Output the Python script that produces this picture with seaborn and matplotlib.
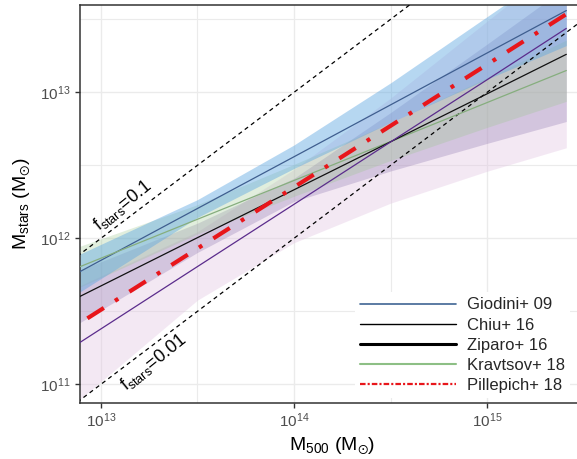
import numpy as np
import pandas as pd
import matplotlib
matplotlib.use("Agg")
import matplotlib.pyplot as plt
import seaborn as sns
from matplotlib.lines import Line2D

# ---------------- data ----------------
m500_nodes = [7.76e12, 3.16e13, 1.0e14, 3.16e14, 1.0e15, 2.57e15]

giodini_mid = [5.90e11, 1.60e12, 3.62e12, 8.20e12, 1.86e13, 3.63e13]
giodini_hi = [7.78e11, 1.84e12, 4.36e12, 1.16e13, 3.30e13, 7.76e13]
giodini_lo = [4.28e11, 1.39e12, 3.01e12, 6.22e12, 1.23e13, 2.09e13]

kravtsov_mid = [6.38e11, 1.35e12, 2.49e12, 4.60e12, 8.51e12, 1.41e13]
kravtsov_hi = [8.81e11, 1.70e12, 3.21e12, 6.21e12, 1.26e13, 2.28e13]
kravtsov_lo = [4.62e11, 1.07e12, 1.94e12, 3.41e12, 5.75e12, 8.67e12]

black_mid = [3.99e11, 1.01e12, 2.15e12, 4.58e12, 9.77e12, 1.82e13]
black_hi = [6.04e11, 1.27e12, 2.58e12, 7.26e12, 2.14e13, 5.25e13]
black_lo = [2.64e11, 8.00e11, 1.79e12, 2.89e12, 4.47e12, 6.31e12]

purple_mid = [1.93e11, 6.40e11, 1.71e12, 4.57e12, 1.22e13, 2.74e13]
purple_hi = [4.73e11, 1.11e12, 2.97e12, 9.12e12, 3.07e13, 8.26e13]
purple_lo = [7.85e10, 3.77e11, 9.33e11, 1.74e12, 2.88e12, 4.17e12]

pillepich_m500 = [8.51e12, 1.0e14, 2.57e15]
pillepich_mstar = [2.83e11, 2.24e12, 3.43e13]

fstars_levels = [0.1, 0.01]
fstars_m500 = [7.0e12, 3.0e15]

legend_labels = ["Giodini+ 09", "Chiu+ 16", "Ziparo+ 16", "Kravtsov+ 18", "Pillepich+ 18"]
xtick_vals = [1e13, 1e14, 1e15]
xtick_labels = [r"$10^{13}$", r"$10^{14}$", r"$10^{15}$"]
ytick_vals = [1e11, 1e12, 1e13]
ytick_labels = [r"$10^{11}$", r"$10^{12}$", r"$10^{13}$"]

# ---------------- style ----------------
sns.set_theme(style="whitegrid")
plt.rcParams["font.family"] = ["Liberation Sans", "DejaVu Sans"]
plt.rcParams["mathtext.fontset"] = "custom"
plt.rcParams["mathtext.rm"] = "Liberation Sans"
plt.rcParams["mathtext.it"] = "Liberation Sans:italic"
plt.rcParams["mathtext.bf"] = "Liberation Sans:bold"
plt.rcParams["mathtext.sf"] = "Liberation Sans"
plt.rcParams["lines.scale_dashes"] = False

fig = plt.figure(figsize=(5.77, 4.59), dpi=100)
ax = fig.add_axes([79.7 / 577, 1 - 402.7 / 459, (583.7 - 79.7) / 577, (402.7 - 5) / 459])
ax.set_xscale("log")
ax.set_yscale("log")
ax.set_xlim(10 ** 12.89, 10 ** 15.41)
ax.set_ylim(10 ** 10.874, 10 ** 13.598)

# bands
bands = [
    (purple_lo, purple_hi, "#E2C4E2", 0.38),
    (black_lo, black_hi, "#8C74AE", 0.30),
    (kravtsov_lo, kravtsov_hi, "#9CC88F", 0.30),
    (giodini_lo, giodini_hi, "#5FA7E2", 0.45),
]
for lo, hi, c, a in bands:
    ax.fill_between(m500_nodes, lo, hi, color=c, alpha=a, lw=0, zorder=2)

# f_stars reference lines
for f in fstars_levels:
    d = pd.DataFrame({"x": fstars_m500, "y": [f * m for m in fstars_m500]})
    sns.lineplot(data=d, x="x", y="y", ax=ax, color="black", lw=0.9,
                 linestyle=(0, (3.0, 2.6)), zorder=3, legend=False)

lines = [
    (giodini_mid, "#3F5E8F", 0.9),
    (kravtsov_mid, "#86AE7E", 0.9),
    (black_mid, "#111111", 0.9),
    (purple_mid, "#5B2C8C", 0.9),
]
for mid, c, lw in lines:
    d = pd.DataFrame({"x": m500_nodes, "y": mid})
    sns.lineplot(data=d, x="x", y="y", ax=ax, color=c, lw=lw, zorder=4,
                 estimator=None, sort=False, legend=False)

d = pd.DataFrame({"x": pillepich_m500, "y": pillepich_mstar})
sns.lineplot(data=d, x="x", y="y", ax=ax, color="#E8161B", lw=3.0,
             linestyle=(0, (14, 9.5, 2.8, 9.5)), zorder=5,
             estimator=None, sort=False, legend=False)

# labels on f_stars lines
ax.text(10 ** 13.115, 10 ** 12.225, r"f$_{\rm stars}$=0.1", rotation=39,
        ha="center", va="center", fontsize=13, color="black", zorder=6)
ax.text(10 ** 13.275, 10 ** 11.155, r"f$_{\rm stars}$=0.01", rotation=39,
        ha="center", va="center", fontsize=13, color="black", zorder=6)

# axes cosmetics
ax.set_xticks(xtick_vals)
ax.set_xticklabels(xtick_labels)
ax.set_yticks(ytick_vals)
ax.set_yticklabels(ytick_labels)
ax.set_xticks([10 ** 13.5, 10 ** 14.5, 10 ** 15.5], minor=True)
ax.set_yticks([10 ** 11.5, 10 ** 12.5, 10 ** 13.5], minor=True)
ax.set_xticklabels([], minor=True)
ax.set_yticklabels([], minor=True)
ax.tick_params(which="major", length=3.5, width=1.0, color="#333333",
               labelsize=11, labelcolor="#4D4D4D", pad=3, bottom=True, left=True)
ax.tick_params(which="minor", length=0)
ax.grid(which="major", color="#EBEBEB", lw=1.0)
ax.grid(which="minor", color="#EBEBEB", lw=0.8)
ax.set_axisbelow(True)
for s in ["left", "bottom", "top", "right"]:
    ax.spines[s].set_color("#333333")
    ax.spines[s].set_linewidth(1.1)
ax.set_xlabel("M$_{\\rm 500}$ (M$_{\u2299}$)", fontsize=14, color="black", labelpad=4)
ax.set_ylabel("M$_{\\rm stars}$ (M$_{\u2299}$)", fontsize=14, color="black", labelpad=6)

handles = [
    Line2D([], [], color="#3F6594", lw=1.2),
    Line2D([], [], color="black", lw=1.0),
    Line2D([], [], color="black", lw=2.2),
    Line2D([], [], color="#8DBF85", lw=1.5),
    Line2D([], [], color="#E8161B", lw=1.6, linestyle=(0, (4, 1.5, 1.5, 1.5))),
]
leg = ax.legend(handles, legend_labels, loc="lower left",
                bbox_to_anchor=(355 / 577, 1 - 398 / 459), bbox_transform=fig.transFigure,
                fontsize=12, handlelength=5.75, handletextpad=0.65, labelspacing=0.31,
                borderpad=0.3, borderaxespad=0, frameon=True, fancybox=False)
leg.get_frame().set_facecolor("white")
leg.get_frame().set_edgecolor("none")
leg.get_frame().set_alpha(1)
leg.set_zorder(10)

fig.savefig("out.png", dpi=100)
